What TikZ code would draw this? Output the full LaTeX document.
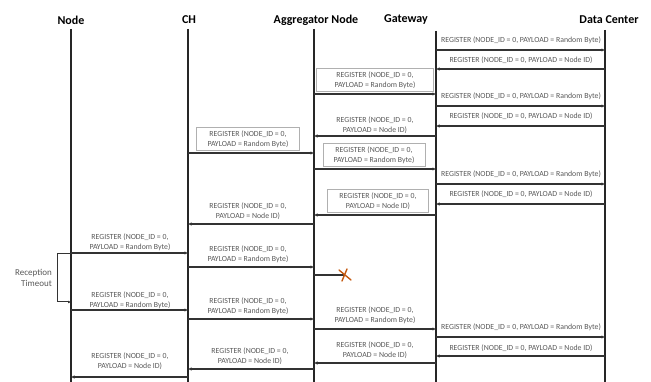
\documentclass[tikz,border=0pt]{standalone}
\usepackage{fontspec}
\setmainfont{Carlito}
\usetikzlibrary{arrows.meta}
\definecolor{lifeclr}{HTML}{262626}
\definecolor{arrclr}{HTML}{333333}
\definecolor{labelgray}{HTML}{595959}
\definecolor{boxgray}{HTML}{B0B0B0}
\definecolor{lostclr}{HTML}{C55A11}
\tikzset{
  header/.style={font=\fontsize{12}{14}\selectfont\bfseries, text=black, inner sep=0pt},
  lifeline/.style={draw=lifeclr, line width=1.6pt},
  msg/.style={draw=arrclr, line width=1.2pt, -{Latex[length=3.5pt,width=3.5pt]}},
  lbl/.style={font=\fontsize{7.8}{9.6}\selectfont, text=labelgray, align=center, inner sep=0pt},
  lbox/.style={lbl, draw=boxgray, line width=0.8pt, minimum height=23pt},
  lost/.style={draw=lostclr, line width=1.4pt, line cap=round},
}
\newcommand\msgarrow[3]{\draw[msg] (#1 |- 0,#3) -- (#2 |- 0,#3);}
\begin{document}
\begin{tikzpicture}[x=1pt,y=-1pt]
\useasboundingbox (0,0) rectangle (651,382);
\fill[white] (0,0) rectangle (651,382);

% participants
\node[header] (hN) at (71,20) {Node};
\node[header] (hC) at (189,20) {CH};
\node[header] (hA) at (316,20) {Aggregator Node};
\node[header] (hG) at (406,20) {Gateway};
\node[header] (hD) at (609,20) {Data Center};

% lifelines
\foreach \n/\x/\t in {N/71/29, C/188/29, A/314/29, G/436/31, D/605/30}{
  \coordinate (t\n) at (\x,\t);
  \coordinate (b\n) at (\x,383);
  \draw[lifeline] (t\n) -- (b\n);
}

% first registration of the aggregator node
\node[lbl] (l1) at (521,40) {REGISTER (NODE\_ID = 0, PAYLOAD = Random Byte)};
\msgarrow{tG}{tD}{50}
\node[lbl] (l2) at (521,60) {REGISTER (NODE\_ID = 0, PAYLOAD = Node ID)};
\msgarrow{tD}{tG}{69}
\node[lbox, minimum width=117pt] (l3) at (375,80) {REGISTER (NODE\_ID = 0,\\PAYLOAD = Random Byte)};
\msgarrow{tA}{tG}{94}
\node[lbl] (l4) at (521,96) {REGISTER (NODE\_ID = 0, PAYLOAD = Random Byte)};
\msgarrow{tG}{tD}{106}
\node[lbl] (l5) at (521,116) {REGISTER (NODE\_ID = 0, PAYLOAD = Node ID)};
\msgarrow{tD}{tG}{126}
\node[lbl] (l6) at (375,125) {REGISTER (NODE\_ID = 0,\\PAYLOAD = Node ID)};
\msgarrow{tG}{tA}{136}

% registration of the cluster head
\node[lbox, minimum width=103pt] (l7) at (248,139) {REGISTER (NODE\_ID = 0,\\PAYLOAD = Random Byte)};
\msgarrow{tC}{tA}{153}
\node[lbox, minimum width=102pt] (l8) at (374,155) {REGISTER (NODE\_ID = 0,\\PAYLOAD = Random Byte)};
\msgarrow{tA}{tG}{169}
\node[lbl] (l9) at (521,174) {REGISTER (NODE\_ID = 0, PAYLOAD = Random Byte)};
\msgarrow{tG}{tD}{184}
\node[lbl] (l10) at (521,194) {REGISTER (NODE\_ID = 0, PAYLOAD = Node ID)};
\msgarrow{tD}{tG}{204}
\node[lbox, minimum width=101pt] (l11) at (378,201) {REGISTER (NODE\_ID = 0,\\PAYLOAD = Node ID)};
\msgarrow{tG}{tA}{215}
\node[lbl] (l12) at (248,211) {REGISTER (NODE\_ID = 0,\\PAYLOAD = Node ID)};
\msgarrow{tA}{tC}{224}

% registration of the node, first attempt lost
\node[lbl] (l13) at (130,242) {REGISTER (NODE\_ID = 0,\\PAYLOAD = Random Byte)};
\msgarrow{tN}{tC}{253}
\node[lbl] (l14) at (248,254) {REGISTER (NODE\_ID = 0,\\PAYLOAD = Random Byte)};
\msgarrow{tC}{tA}{267}
\coordinate (x1) at (345,275);
\draw[draw=arrclr, line width=1.2pt] (tA |- x1) -- (x1);
\draw[lost] (x1) ++(-6,-5) -- ++(12,10);
\draw[lost] (x1) ++(-3,6) -- ++(5,-12);

% reception timeout and retry
\coordinate (rt1) at (57,254);
\coordinate (rt2) at (57,302);
\draw[draw=arrclr, line width=1pt] (tN |- rt1) -- (rt1) -- (rt2);
\draw[draw=arrclr, line width=1pt, -{Latex[length=3pt,width=3pt]}] (rt2) -- (tN |- rt2);
\node[lbl, font=\fontsize{9}{11}\selectfont, align=right, anchor=east] (rt) at (52,278) {Reception\\Timeout};

\node[lbl] (l17) at (130,300) {REGISTER (NODE\_ID = 0,\\PAYLOAD = Random Byte)};
\msgarrow{tN}{tC}{310}
\node[lbl] (l18) at (248,306) {REGISTER (NODE\_ID = 0,\\PAYLOAD = Random Byte)};
\msgarrow{tC}{tA}{319}
\node[lbl] (l19) at (375,315) {REGISTER (NODE\_ID = 0,\\PAYLOAD = Random Byte)};
\msgarrow{tA}{tG}{329}
\node[lbl] (l20) at (521,327) {REGISTER (NODE\_ID = 0, PAYLOAD = Random Byte)};
\msgarrow{tG}{tD}{337}
\node[lbl] (l21) at (521,348) {REGISTER (NODE\_ID = 0, PAYLOAD = Node ID)};
\msgarrow{tD}{tG}{356}
\node[lbl] (l22) at (375,350) {REGISTER (NODE\_ID = 0,\\PAYLOAD = Node ID)};
\msgarrow{tG}{tA}{363}
\node[lbl] (l23) at (250,356) {REGISTER (NODE\_ID = 0,\\PAYLOAD = Node ID)};
\msgarrow{tA}{tC}{369}
\node[lbl] (l24) at (130,361) {REGISTER (NODE\_ID = 0,\\PAYLOAD = Node ID)};
\msgarrow{tC}{tN}{377}
\end{tikzpicture}
\end{document}
